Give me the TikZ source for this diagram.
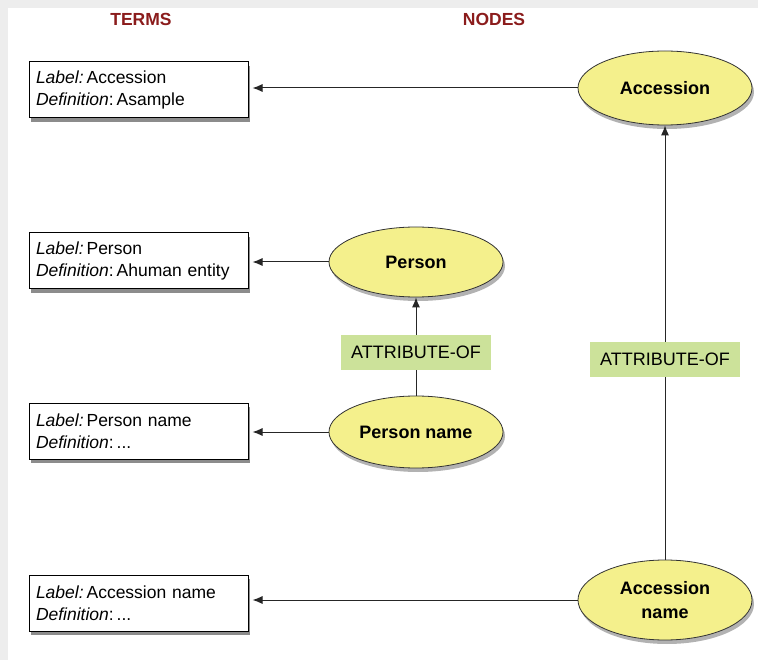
\documentclass[tikz,border=0pt]{standalone}
\usepackage{fontspec}
\setmainfont{Liberation Sans}
\usetikzlibrary{shadows,arrows.meta,shapes.geometric}
\definecolor{hdr}{HTML}{8B1C1C}
\definecolor{ellfill}{HTML}{F4F08C}
\definecolor{relfill}{HTML}{CCE29A}
\tikzset{
  termbox/.style={draw=black, line width=1pt, fill=white, rectangle, text width=205pt, inner sep=7pt,
    minimum height=56pt, align=left, font=\fontsize{17.5}{22}\selectfont,
    drop shadow={shadow xshift=2pt, shadow yshift=-4pt, opacity=0.45, fill=black}},
  concept/.style={draw=black!80, line width=0.8pt, fill=ellfill, ellipse, minimum width=174pt, minimum height=74pt,
    inner sep=0pt, align=center, font=\fontsize{18}{24}\selectfont\bfseries,
    drop shadow={shadow xshift=2pt, shadow yshift=-4pt, opacity=0.3, fill=black}},
  relbox/.style={fill=relfill, draw=none, minimum width=150pt, minimum height=35pt, inner sep=0pt,
    font=\fontsize{18}{22}\selectfont},
  hdrtext/.style={text=hdr, font=\fontsize{17.5}{20}\selectfont\bfseries},
  conn/.style={draw=black!85, line width=1pt, -{Latex[length=10pt,width=8pt]}},
}
\begin{document}
\begin{tikzpicture}[x=1pt,y=-1pt]
\useasboundingbox (0,0) rectangle (758,660);
\fill[black!7] (0,0) rectangle (758,660);
\fill[white] (8,8) rectangle (758,660);
\node[hdrtext] (hterms) at (141,19) {TERMS};
\node[hdrtext] (hnodes) at (494,19) {NODES};

\node[termbox] (t1) at (138.5,90) {\textit{Label:}\,Accession\\\textit{Definition}:\,Asample};
\node[termbox] (t2) at (138.5,261) {\textit{Label:}\,Person\\\textit{Definition}:\,Ahuman entity};
\node[termbox] (t3) at (138.5,431) {\textit{Label:}\,Person name\\\textit{Definition}:\,...};
\node[termbox] (t4) at (138.5,603) {\textit{Label:}\,Accession name\\\textit{Definition}:\,...};

\node[concept] (acc) at (665,88) {Accession};
\node[concept, minimum height=70pt] (per) at (416,262) {Person};
\node[concept, minimum height=72pt] (pern) at (416,432) {Person name};
\node[concept, minimum height=80pt] (accn) at (665,600) {Accession\\name};

\draw[conn, shorten >=4pt] (acc.west) -- (t1.east |- acc.west);
\draw[conn, shorten >=4pt] (per.west) -- (t2.east |- per.west);
\draw[conn, shorten >=4pt] (pern.west) -- (t3.east |- pern.west);
\draw[conn, shorten >=4pt] (accn.west) -- (t4.east |- accn.west);

\draw[conn] (pern.north) -- node[relbox, pos=0.443] (r1) {ATTRIBUTE-OF} (per.south);
\draw[conn] (accn.north) -- node[relbox, pos=0.461] (r2) {ATTRIBUTE-OF} (acc.south);
\end{tikzpicture}
\end{document}
